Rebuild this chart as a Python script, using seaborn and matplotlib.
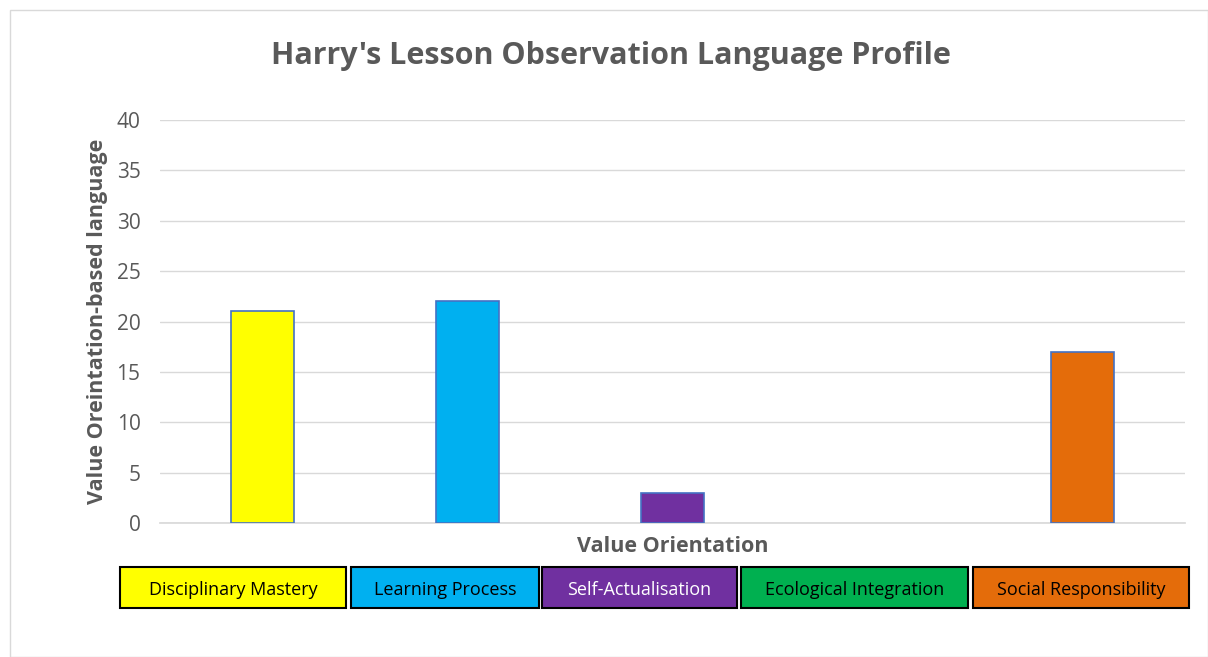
import pandas as pd
import numpy as np
import seaborn as sns
import matplotlib.pyplot as plt
from matplotlib.patches import Rectangle

# data
categories = ['Disciplinary Mastery', 'Learning Process', 'Self-Actualisation',
              'Ecological Integration', 'Social Responsibility']
counts = [21, 22, 3, 0, 17]
colours = ['#FFFF00', '#00B0F0', '#7030A0', '#00B050', '#E46C0A']
label_text_colours = ['black', 'black', 'white', 'black', 'black']

df = pd.DataFrame({'category': categories, 'count': counts})

sns.set_theme(style='white')
plt.rcParams['font.family'] = ['Open Sans', 'DejaVu Sans']

fig = plt.figure(figsize=(12.08, 6.57), dpi=100)
ax = fig.add_axes([160/1208, 1-523/657, 1025/1208, 403/657])

sns.barplot(data=df, x='category', y='count', hue='category', palette=colours,
            saturation=1, dodge=False, legend=False, width=0.31, ax=ax,
            edgecolor='#4472C4', linewidth=1.2, zorder=3)
# no outline for empty bars
for p in ax.patches:
    if p.get_height() == 0:
        p.set_linewidth(0)

ax.set_ylim(0, 40)
ax.set_yticks(range(0, 41, 5))
ax.set_xlim(-0.5, 4.5)
ax.set_xticks([])
ax.grid(axis='y', color='#D9D9D9', linewidth=1, zorder=0)
for s in ['left', 'right', 'top']:
    ax.spines[s].set_visible(False)
ax.spines['bottom'].set_color('#D9D9D9')
ax.tick_params(axis='y', length=0, labelsize=15, labelcolor='#595959', pad=14)
ax.set_xlabel('Value Orientation', fontsize=15.5, fontweight='bold', color='#595959', labelpad=9)
ax.set_ylabel('Value Oreintation-based language', fontsize=15.5, fontweight='bold',
              color='#595959', labelpad=6)
fig.text(611/1208, 1-56/657, "Harry's Lesson Observation Language Profile",
         ha='center', va='center', fontsize=22, fontweight='bold', color='#595959')

# chart border
fig.patches.append(Rectangle((10/1208, 0), 1-10/1208, 1-10/657, transform=fig.transFigure,
                             fill=False, edgecolor='#D9D9D9', linewidth=1))

# colour key boxes under the axis
box_x = [(120, 346), (351, 539), (542, 737), (741, 968), (973, 1189)]
for (x0, x1), name, c, tc in zip(box_x, categories, colours, label_text_colours):
    fig.patches.append(Rectangle((x0/1208, 1-608/657), (x1-x0)/1208, 41/657,
                                 transform=fig.transFigure, facecolor=c,
                                 edgecolor='black', linewidth=1.5))
    fig.text((x0+x1)/2/1208, 1-590/657, name, ha='center', va='center',
             fontsize=13, color=tc)

fig.savefig('out.png', dpi=100)
